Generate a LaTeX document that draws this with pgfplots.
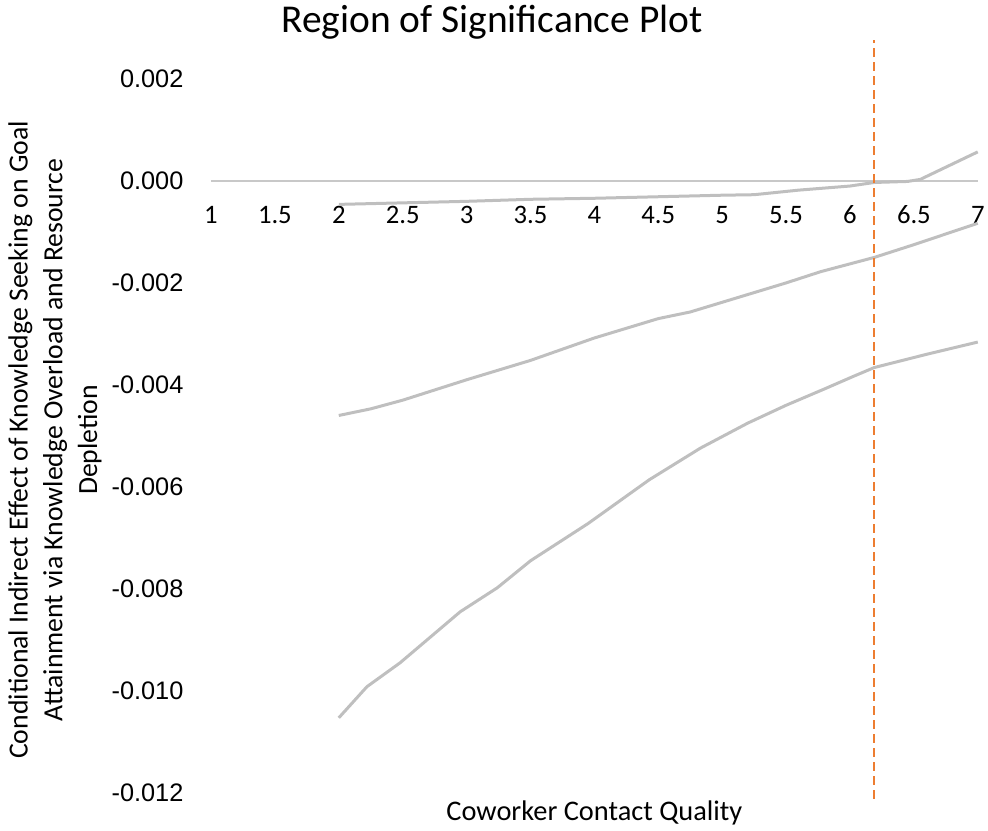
\documentclass[border=0pt]{standalone}
\usepackage{pgfplots}
\pgfplotsset{compat=1.18}
\usepackage{fontspec}
\setmainfont{Carlito}
\newfontfamily\arialf{Liberation Sans}
\definecolor{lgray}{HTML}{BFBFBF}
\definecolor{zgray}{HTML}{C8C8C8}
\definecolor{xorange}{HTML}{ED7D31}
\begin{document}
\begin{tikzpicture}
\begin{axis}[
  scale only axis, width=575.25pt, height=572.6pt,
  xmin=1, xmax=7, ymin=-0.0122, ymax=0.00277,
  axis x line=middle, axis y line=left,
  hide obscured x ticks=false,
  x axis line style={-, draw=zgray, line width=1.1pt},
  y axis line style={draw=none},
  major tick length=0pt,
  xtick={1,1.5,2,2.5,3,3.5,4,4.5,5,5.5,6,6.5,7},
  xticklabels={1,1.5,2,2.5,3,3.5,4,4.5,5,5.5,6,6.5,7},
  ytick={-0.012,-0.010,-0.008,-0.006,-0.004,-0.002,0,0.002},
  yticklabels={-0.012,-0.010,-0.008,-0.006,-0.004,-0.002,0.000,0.002},
  scaled y ticks=false, scaled x ticks=false,
  yticklabel style={font=\arialf\fontsize{19}{19}\selectfont, anchor=east, inner sep=0pt, xshift=-20.5pt},
  xticklabel style={font=\fontsize{20}{20}\selectfont, anchor=base, inner sep=0pt, yshift=-31.8pt},
  clip=false,
]
\path (axis cs:-0.651,0.003549) rectangle (axis cs:7.080,-0.012745);

\addplot[lgray, line width=2.25pt, line join=round] coordinates {
(2,-0.00046) (2.5,-0.00043) (3,-0.00040) (3.5,-0.00036) (4,-0.00034) (4.5,-0.00031)
(5,-0.00028) (5.25,-0.00027) (5.6,-0.00018) (6,-0.00010) (6.19,-0.00003) (6.45,-0.00001)
(6.55,0.00003) (7,0.00057)};

\addplot[lgray, line width=2.25pt, line join=round] coordinates {
(2,-0.0046) (2.25,-0.00447) (2.5,-0.0043) (3,-0.0039) (3.5,-0.00352) (4,-0.00308)
(4.5,-0.00270) (4.75,-0.00257) (5,-0.00238) (5.5,-0.00200) (5.77,-0.00178) (6.19,-0.00150)
(6.5,-0.00125) (7,-0.00083)};

\addplot[lgray, line width=2.25pt, line join=round] coordinates {
(2,-0.01053) (2.22,-0.00992) (2.48,-0.00945) (2.95,-0.00845) (3.24,-0.00798) (3.5,-0.00745)
(3.95,-0.00672) (4.43,-0.00586) (4.83,-0.00524) (5.2,-0.00475) (5.5,-0.00440) (5.8,-0.00408)
(6.02,-0.00384) (6.19,-0.00366) (6.6,-0.00340) (7,-0.00316)};

\addplot[xorange, line width=1.5pt, dash pattern=on 6.5pt off 4pt] coordinates {(6.19,-0.01212) (6.19,0.00277)};

\node[font=\fontsize{29.6}{30}\selectfont] at (axis cs:3.199,0.003118) {Region of Significance Plot};
\node[font=\fontsize{21.3}{22}\selectfont] at (axis cs:4.0,-0.01239) {Coworker Contact Quality};
\node[rotate=90, align=center, font=\fontsize{20.8}{26}\selectfont] at (axis cs:-0.2207,-0.00508)
 {Conditional Indirect Effect of Knowledge Seeking on Goal\\Attainment via Knowledge Overload and Resource\\Depletion};
\end{axis}
\end{tikzpicture}
\end{document}
